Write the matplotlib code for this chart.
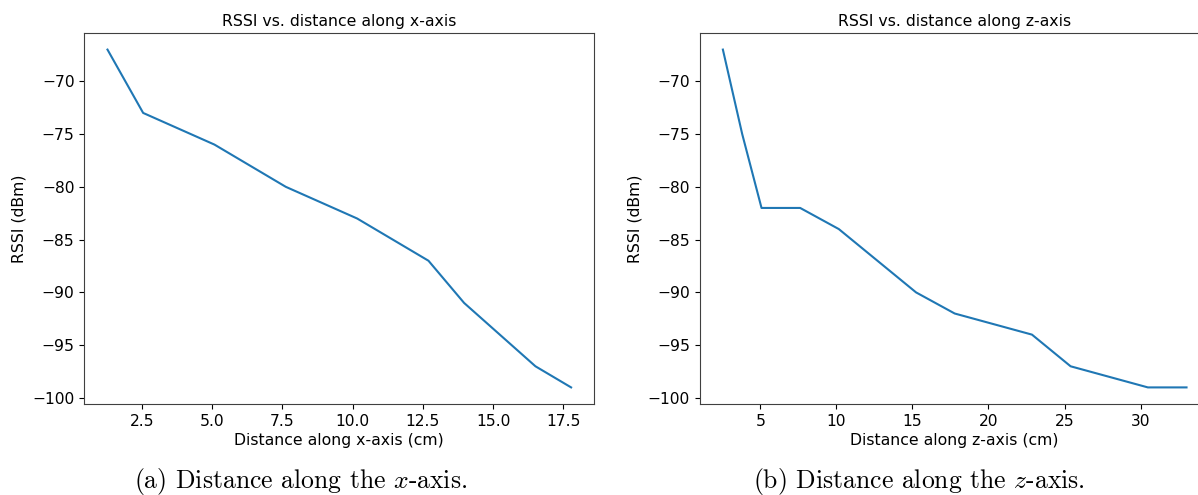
import matplotlib
matplotlib.use("Agg")
import matplotlib.pyplot as plt

# RSSI readings (dBm) at each antenna separation (cm)
x_dist = [1.27, 2.54, 5.08, 7.62, 10.16, 12.7, 13.97, 16.51, 17.78]
x_rssi = [-67, -73, -76, -80, -83, -87, -91, -97, -99]

z_dist = [2.54, 3.81, 5.08, 7.62, 10.16, 15.24, 17.78, 22.86, 25.4, 30.48, 33.02]
z_rssi = [-67, -75, -82, -82, -84, -90, -92, -94, -97, -99, -99]

plt.rcParams['mathtext.fontset'] = 'cm'

fig = plt.figure(figsize=(11.98, 4.95), dpi=100)

W, H = 1198.0, 495.0
ax_w = 510 / W
ax_h = 371.6 / H
ax_y = 1 - 404.3 / H

ax1 = fig.add_axes([84.3 / W, ax_y, ax_w, ax_h])
ax2 = fig.add_axes([699.7 / W, ax_y, ax_w, ax_h])

panels = [
    (ax1, x_dist, x_rssi, "x"),
    (ax2, z_dist, z_rssi, "z"),
]

for ax, d, r, name in panels:
    ax.plot(d, r, color="tab:blue", linewidth=1.5)
    ax.set_title(f"RSSI vs. distance along {name}-axis", fontsize=11.3, pad=5)
    ax.set_xlabel(f"Distance along {name}-axis (cm)", fontsize=11.3, labelpad=3)
    ax.set_ylabel("RSSI (dBm)", fontsize=11.3)
    ax.tick_params(labelsize=11.2)
    for s in ax.spines.values():
        s.set_color("#404040")

# sub-figure captions
fig.text(301 / W, 1 - 488 / H, r"(a) Distance along the $x$-axis.",
         family="cmr10", fontsize=18.5, ha="center", va="baseline")
fig.text(919 / W, 1 - 488 / H, r"(b) Distance along the $z$-axis.",
         family="cmr10", fontsize=18.5, ha="center", va="baseline")

fig.savefig("out.png", dpi=100)
